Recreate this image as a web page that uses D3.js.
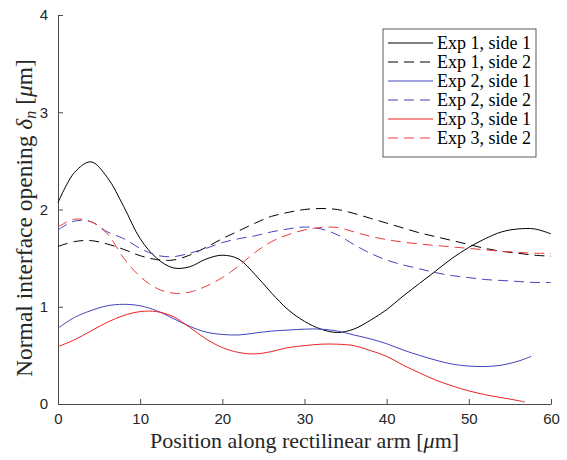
<!DOCTYPE html>
<html>
<head>
<meta charset="utf-8">
<script src="https://cdn.jsdelivr.net/npm/d3@7"></script>
<style>
  body { margin: 0; background: #fff; }
  svg { display: block; }
</style>
</head>
<body>
<div id="chart"></div>
<script>
// data (x in um, y = normal opening in um)
var xFull = [0,2,4,6,8,10,12,14,16,18,20,22,24,26,28,30,32,34,36,38,40,42,44,46,48,50,52,54,56,58,60];
var xExp2s1 = [0,2,4,6,8,10,12,14,16,18,20,22,24,26,28,30,32,34,36,38,40,42,44,46,48,50,52,54,56,57.6];
var xExp3s1 = [0,2,4,6,8,10,12,14,16,18,20,22,24,26,28,30,32,34,36,38,40,42,44,46,48,50,52,54,56,56.8];

var exp1s1 = [2.07,2.38,2.49,2.33,2.03,1.70,1.50,1.40,1.41,1.49,1.53,1.49,1.33,1.14,0.97,0.85,0.77,0.735,0.77,0.86,0.97,1.11,1.24,1.37,1.50,1.61,1.70,1.77,1.80,1.80,1.75];
var exp1s2 = [1.62,1.67,1.68,1.645,1.59,1.525,1.485,1.48,1.53,1.61,1.70,1.78,1.86,1.93,1.97,2.00,2.01,2.00,1.96,1.91,1.86,1.81,1.76,1.72,1.68,1.64,1.60,1.57,1.55,1.53,1.52];
var exp2s1 = [0.78,0.89,0.96,1.01,1.025,1.01,0.96,0.88,0.80,0.74,0.715,0.71,0.73,0.75,0.76,0.77,0.77,0.75,0.71,0.67,0.62,0.555,0.50,0.45,0.41,0.39,0.385,0.40,0.44,0.49];
var exp2s2 = [1.79,1.88,1.875,1.77,1.70,1.60,1.53,1.515,1.55,1.60,1.66,1.70,1.73,1.77,1.80,1.82,1.80,1.74,1.64,1.55,1.48,1.43,1.39,1.35,1.32,1.30,1.28,1.27,1.26,1.25,1.25];
var exp3s1 = [0.59,0.66,0.75,0.84,0.91,0.95,0.95,0.90,0.79,0.67,0.58,0.53,0.515,0.54,0.58,0.60,0.615,0.615,0.60,0.55,0.49,0.40,0.32,0.245,0.185,0.135,0.095,0.065,0.035,0.02];
var exp3s2 = [1.82,1.90,1.875,1.75,1.50,1.31,1.19,1.14,1.15,1.21,1.30,1.42,1.56,1.67,1.74,1.79,1.815,1.815,1.77,1.725,1.69,1.665,1.645,1.63,1.615,1.60,1.585,1.57,1.56,1.55,1.55];

var seriesNames = ["Exp 1, side 1","Exp 1, side 2","Exp 2, side 1","Exp 2, side 2","Exp 3, side 1","Exp 3, side 2"];
var xTicks = [0,10,20,30,40,50,60];
var yTicks = [0,1,2,3,4];

var series = [
  { name: seriesNames[0], x: xFull,   y: exp1s1, color: "#000000", dash: null },
  { name: seriesNames[1], x: xFull,   y: exp1s2, color: "#000000", dash: "10,6" },
  { name: seriesNames[2], x: xExp2s1, y: exp2s1, color: "#4343bd", dash: null },
  { name: seriesNames[3], x: xFull,   y: exp2s2, color: "#4343bd", dash: "10,6" },
  { name: seriesNames[4], x: xExp3s1, y: exp3s1, color: "#ec2222", dash: null },
  { name: seriesNames[5], x: xFull,   y: exp3s2, color: "#ee3a3a", dash: "10,6" }
];

var margin = { left:58, right:16, top:15, bottom:56 };
var wid = 567 - margin.left - margin.right;
var hei = 460 - margin.top - margin.bottom;

var svg = d3.select("#chart")
    .append("svg")
    .attr("width", 567)
    .attr("height", 460);

var g = svg.append("g")
    .attr("transform", "translate(" + margin.left + "," + margin.top + ")");

var xScale = d3.scaleLinear().domain([0, 60]).range([0, wid]);
var yScale = d3.scaleLinear().domain([0, 4]).range([hei, 0]);

// axes, ticks pointing inward
var xAxis = d3.axisBottom(xScale).tickValues(xTicks).tickFormat(d3.format("d"))
    .tickSizeInner(-5).tickSizeOuter(0).tickPadding(9);
var yAxis = d3.axisLeft(yScale).tickValues(yTicks).tickFormat(d3.format("d"))
    .tickSizeInner(-5).tickSizeOuter(0).tickPadding(10);

var xAxisGroup = g.append("g")
    .attr("transform", "translate(0," + hei + ")")
    .call(xAxis);
var yAxisGroup = g.append("g").call(yAxis);

[xAxisGroup, yAxisGroup].forEach(function (ax) {
  ax.select(".domain").attr("stroke", "#4a4a4a").attr("stroke-width", 1);
  ax.selectAll(".tick line").attr("stroke", "#4a4a4a");
  ax.selectAll("text")
    .attr("font-family", "'Liberation Sans', Arial, sans-serif")
    .attr("font-size", 15)
    .attr("fill", "#262626");
});

// lines
var line = d3.line()
    .x(function (d) { return xScale(d[0]); })
    .y(function (d) { return yScale(d[1]); })
    .curve(d3.curveCatmullRom.alpha(0.5));

g.append("g")
    .selectAll("path")
    .data(series)
    .enter()
    .append("path")
    .attr("d", function (s) { return line(d3.zip(s.x, s.y)); })
    .attr("fill", "none")
    .attr("stroke", function (s) { return s.color; })
    .attr("stroke-width", 1)
    .attr("stroke-dasharray", function (s) { return s.dash; });

// axis labels
var serif = "'Liberation Serif', 'Times New Roman', serif";

svg.append("text")
    .attr("x", margin.left + wid / 2)
    .attr("y", 448)
    .attr("text-anchor", "middle")
    .attr("font-family", serif)
    .attr("font-size", 22)
    .attr("fill", "#262626")
    .html("Position along rectilinear arm [<tspan font-style='italic'>μ</tspan>m]");

svg.append("text")
    .attr("transform", "translate(32,218) rotate(-90)")
    .attr("text-anchor", "middle")
    .attr("font-family", serif)
    .attr("font-size", 23.5)
    .attr("fill", "#262626")
    .html("Normal interface opening <tspan font-style='italic'>δ</tspan><tspan font-style='italic' font-size='16' dy='4'>n</tspan><tspan dy='-4'> [</tspan><tspan font-style='italic'>μ</tspan>m]");

// legend
var legend = svg.append("g").attr("class", "legend");
legend.append("rect")
    .attr("x", 383)
    .attr("y", 29)
    .attr("width", 153)
    .attr("height", 128)
    .attr("fill", "#fff")
    .attr("stroke", "#333")
    .attr("stroke-width", 0.8);

var rows = legend.selectAll("g.row")
    .data(series)
    .enter()
    .append("g")
    .attr("class", "row")
    .attr("transform", function (s, i) { return "translate(0," + (43 + i * 19) + ")"; });

rows.append("line")
    .attr("x1", 388).attr("x2", 433)
    .attr("y1", 0).attr("y2", 0)
    .attr("stroke", function (s) { return s.color; })
    .attr("stroke-width", 1)
    .attr("stroke-dasharray", function (s) { return s.dash; });

rows.append("text")
    .attr("x", 437)
    .attr("y", 5.5)
    .attr("font-family", serif)
    .attr("font-size", 18)
    .attr("fill", "#000")
    .text(function (s) { return s.name; });
</script>
</body>
</html>
